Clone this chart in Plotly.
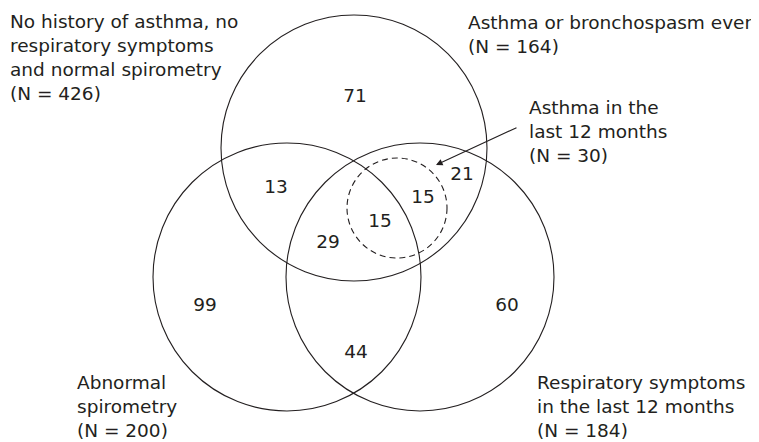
import plotly.graph_objects as go

# ---- data ----
set_names = [
    "Asthma or bronchospasm ever<br>(N = 164)",
    "Abnormal<br>spirometry<br>(N = 200)",
    "Respiratory symptoms<br>in the last 12 months<br>(N = 184)",
    "Asthma in the<br>last 12 months<br>(N = 30)",
]
none_label = "No history of asthma, no<br>respiratory symptoms<br>and normal spirometry<br>(N = 426)"
region_counts = [71, 13, 15, 15, 21, 29, 99, 44, 60]

# ---- layout geometry (page pixels, y downwards) ----
circles = [  # cx, cy, r, dash
    (354, 148, 133, "solid"),
    (287, 277, 134, "solid"),
    (420, 277, 134, "solid"),
    (397, 208, 50, "6px,4px"),
]
region_pos = [(355, 97), (276, 188), (423, 198), (380, 222), (462, 175),
              (328, 243), (205, 306), (356, 353), (507, 306)]
label_pos = [(466, 34), (75, 406), (535, 406), (527, 131)]
none_pos = (8, 57)

FONT = "DejaVu Sans"
FS = 18.5
INK = "#231f20"
OFF = 8  # page body margin

fig = go.Figure()

shapes = []
for cx, cy, r, dash in circles:
    shapes.append(dict(type="circle", xref="x", yref="y",
                       x0=cx - r, x1=cx + r, y0=cy - r, y1=cy + r,
                       line=dict(color=INK, width=1.1, dash=dash)))

fig.add_trace(go.Scatter(
    x=[p[0] for p in region_pos], y=[p[1] for p in region_pos],
    mode="text", text=[str(v) for v in region_counts],
    textfont=dict(family=FONT, size=FS, color=INK),
    hoverinfo="skip", showlegend=False))

annotations = []
for name, (lx, ly) in zip(set_names, label_pos):
    annotations.append(dict(x=lx, y=ly, xref="x", yref="y", text=name,
                            showarrow=False, xanchor="left", yanchor="middle",
                            align="left", font=dict(family=FONT, size=FS, color=INK)))
annotations.append(dict(x=none_pos[0], y=none_pos[1], xref="x", yref="y",
                        text=none_label, showarrow=False, xanchor="left",
                        yanchor="middle", align="left",
                        font=dict(family=FONT, size=FS, color=INK)))
# arrow pointing to dashed circle
annotations.append(dict(x=436, y=165, ax=518, ay=127, xref="x", yref="y",
                        axref="x", ayref="y", text="", showarrow=True,
                        arrowhead=2, arrowsize=1.2, arrowwidth=1.1,
                        arrowcolor=INK))

W, H = 759, 442
fig.update_layout(
    width=W - OFF, height=H - OFF,
    margin=dict(l=0, r=0, t=0, b=0),
    paper_bgcolor="white", plot_bgcolor="white",
    xaxis=dict(range=[OFF, W], visible=False, fixedrange=True),
    yaxis=dict(range=[H, OFF], visible=False, fixedrange=True),
    shapes=shapes, annotations=annotations,
)

fig.write_html("out.html")
